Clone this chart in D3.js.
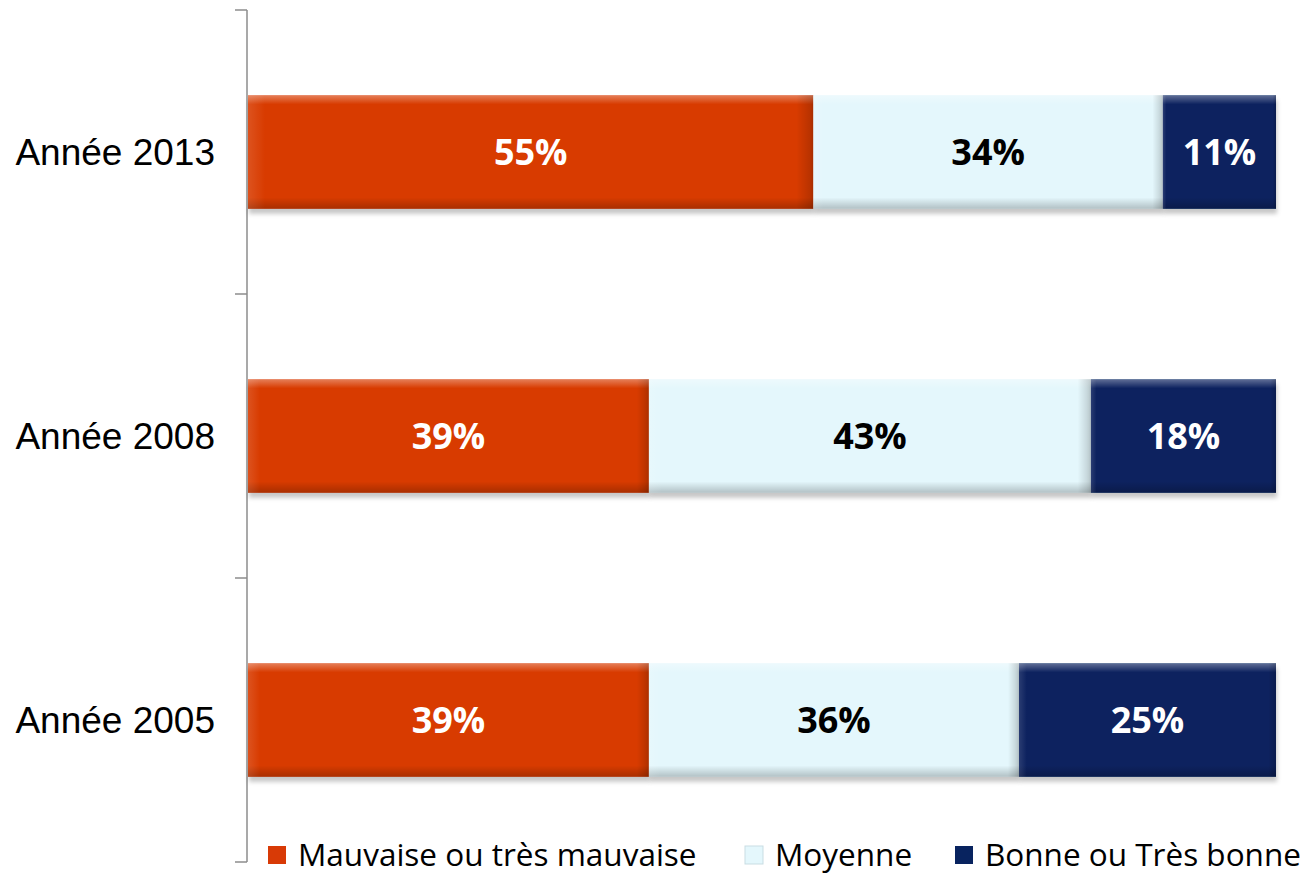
<!DOCTYPE html>
<html>
<head>
<meta charset="utf-8">
<script src="https://cdnjs.cloudflare.com/ajax/libs/d3/7.8.5/d3.min.js"></script>
<style>
body { margin: 0; background: #fff; }
</style>
</head>
<body>
<script>
var years = ["Année 2013", "Année 2008", "Année 2005"];
var seriesNames = ["Mauvaise ou très mauvaise", "Moyenne", "Bonne ou Très bonne"];
var mauvaise = [55, 39, 39];
var moyenne = [34, 43, 36];
var bonne = [11, 18, 25];

var colors = ["#d83a06", "#e4f7fc", "#08235f"];
var textColors = ["#ffffff", "#000000", "#ffffff"];

var width = 1314, height = 875;
var margin = {top: 10, right: 38, bottom: 13, left: 248};

var svg = d3.select("body").append("svg")
  .attr("width", width)
  .attr("height", height);

var defs = svg.append("defs");

// soft shadow under the bars
var shadow = defs.append("filter").attr("id", "shadow")
  .attr("x", "-5%").attr("y", "-10%").attr("width", "110%").attr("height", "130%");
shadow.append("feDropShadow")
  .attr("dx", 1).attr("dy", 5).attr("stdDeviation", 2)
  .attr("flood-color", "#000").attr("flood-opacity", 0.22);

// bevel gradients
var bevelV = defs.append("linearGradient").attr("id", "bevelV")
  .attr("x1", 0).attr("y1", 0).attr("x2", 0).attr("y2", 1);
bevelV.append("stop").attr("offset", "0%").attr("stop-color", "#fff").attr("stop-opacity", 0.35);
bevelV.append("stop").attr("offset", "8%").attr("stop-color", "#fff").attr("stop-opacity", 0.0);
bevelV.append("stop").attr("offset", "90%").attr("stop-color", "#000").attr("stop-opacity", 0.0);
bevelV.append("stop").attr("offset", "100%").attr("stop-color", "#000").attr("stop-opacity", 0.22);

var bevelH = defs.append("linearGradient").attr("id", "bevelH")
  .attr("x1", 0).attr("y1", 0).attr("x2", 1).attr("y2", 0);
bevelH.append("stop").attr("offset", "0%").attr("stop-color", "#fff").attr("stop-opacity", 0.12);
bevelH.append("stop").attr("offset", "3%").attr("stop-color", "#fff").attr("stop-opacity", 0.0);
bevelH.append("stop").attr("offset", "97%").attr("stop-color", "#000").attr("stop-opacity", 0.0);
bevelH.append("stop").attr("offset", "100%").attr("stop-color", "#000").attr("stop-opacity", 0.18);

var x = d3.scaleLinear()
  .domain([0, 100])
  .range([margin.left, width - margin.right]);

var y = d3.scaleBand()
  .domain(years)
  .range([margin.top, height - margin.bottom])
  .padding(0);

var barH = y.bandwidth() * 0.4;

var data = years.map(function(yr, i) {
  var vals = [mauvaise[i], moyenne[i], bonne[i]];
  var start = 0;
  return vals.map(function(v, k) {
    var seg = {year: yr, k: k, x0: start, x1: start + v, value: v};
    start += v;
    return seg;
  });
});

// axis line with ticks at band boundaries
var axisX = margin.left - 1;
var axis = svg.append("g").attr("class", "y axis");
axis.append("line")
  .attr("x1", axisX).attr("x2", axisX)
  .attr("y1", y.range()[0]).attr("y2", y.range()[1])
  .attr("stroke", "#8c8c8c").attr("stroke-width", 1.5);
var bounds = years.map(function(d) { return y(d); }).concat([y.range()[1]]);
axis.selectAll("line.tick").data(bounds).enter().append("line")
  .attr("class", "tick")
  .attr("x1", axisX - 12).attr("x2", axisX)
  .attr("y1", function(d) { return d; }).attr("y2", function(d) { return d; })
  .attr("stroke", "#8c8c8c").attr("stroke-width", 1.5);

axis.selectAll("text").data(years).enter().append("text")
  .attr("x", 215)
  .attr("y", function(d) { return y(d) + y.bandwidth() / 2; })
  .attr("dy", "0.36em")
  .attr("text-anchor", "end")
  .style("font-family", "'Liberation Sans', Arial, sans-serif")
  .style("font-size", "37px")
  .attr("fill", "#000")
  .text(function(d) { return d; });

var rows = svg.selectAll("g.row").data(data).enter().append("g")
  .attr("class", "row")
  .attr("transform", function(d) {
    return "translate(0," + (y(d[0].year) + (y.bandwidth() - barH) / 2) + ")";
  });

var segs = rows.selectAll("g.seg").data(function(d) { return d; }).enter().append("g")
  .attr("class", "seg");

segs.append("rect")
  .attr("x", function(d) { return x(d.x0); })
  .attr("width", function(d) { return x(d.x1) - x(d.x0); })
  .attr("height", barH)
  .attr("fill", function(d) { return colors[d.k]; })
  .attr("filter", "url(#shadow)");

segs.append("rect")
  .attr("x", function(d) { return x(d.x0); })
  .attr("width", function(d) { return x(d.x1) - x(d.x0); })
  .attr("height", barH)
  .attr("fill", "url(#bevelV)");

segs.append("rect")
  .attr("x", function(d) { return x(d.x0); })
  .attr("width", function(d) { return x(d.x1) - x(d.x0); })
  .attr("height", barH)
  .attr("fill", "url(#bevelH)");

segs.append("text")
  .attr("x", function(d) { return (x(d.x0) + x(d.x1)) / 2; })
  .attr("y", barH / 2)
  .attr("dy", "0.36em")
  .attr("text-anchor", "middle")
  .style("font-family", "'Open Sans', sans-serif")
  .style("font-weight", "bold")
  .style("font-size", "36px")
  .attr("fill", function(d) { return textColors[d.k]; })
  .text(function(d) { return d.value + "%"; });

// legend
var legendX = [268, 745, 955];
var legend = svg.selectAll("g.legend").data(seriesNames).enter().append("g")
  .attr("class", "legend")
  .attr("transform", function(d, i) { return "translate(" + legendX[i] + ",846)"; });

legend.append("rect")
  .attr("width", 18).attr("height", 18)
  .attr("fill", function(d, i) { return colors[i]; })
  .attr("stroke", function(d, i) { return i === 1 ? "#c9dde3" : "none"; });

legend.append("text")
  .attr("x", 30)
  .attr("y", 9)
  .attr("dy", "0.34em")
  .style("font-family", "'Open Sans', sans-serif")
  .style("font-size", "31.5px")
  .attr("fill", "#000")
  .text(function(d) { return d; });
</script>
</body>
</html>
